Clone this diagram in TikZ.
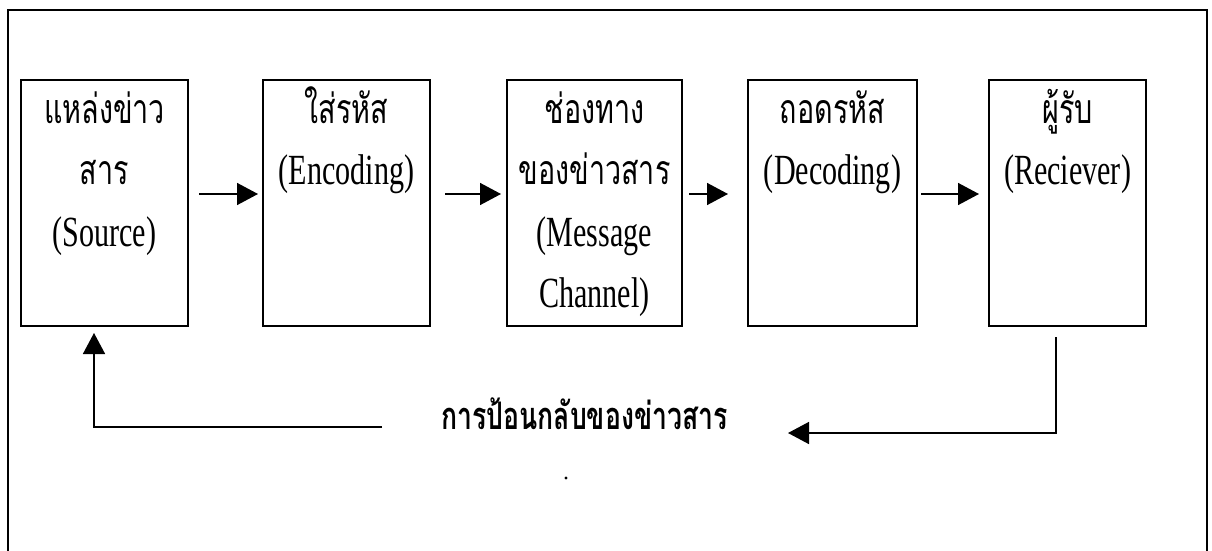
\documentclass[tikz,border=0pt]{standalone}
\usepackage{fontspec}
\setmainfont{Liberation Serif}[FakeStretch=0.7]
\newfontfamily\thai[Script=Thai,FakeStretch=0.7]{Loma}
\usetikzlibrary{arrows.meta}
\begin{document}
\begin{tikzpicture}[x=1pt,y=-1pt,line width=1.5pt,
  box/.style={draw,rectangle,inner sep=0pt,outer sep=0pt,minimum height=246pt},
  en/.style={anchor=base,inner sep=0pt,font=\fontsize{43}{50}\selectfont},
  th/.style={anchor=base,inner sep=0pt,font=\thai\fontsize{41}{50}\selectfont},
  thb/.style={anchor=base,inner sep=0pt,font=\thai\bfseries\fontsize{38}{50}\selectfont},
  arr/.style={-{Triangle[length=21pt,width=22pt]}}]
\useasboundingbox (0,0) rectangle (1212,551);
% outer frame
\draw (8,551) -- (8,10) -- (1207,10) -- (1207,551);
% boxes
\node[box,minimum width=167pt] (b1) at (104.5,203) {};
\node[box,minimum width=167pt] (b2) at (346.5,203) {};
\node[box,minimum width=175pt] (b3) at (594.5,203) {};
\node[box,minimum width=169pt] (b4) at (832.5,203) {};
\node[box,minimum width=157pt] (b5) at (1067.5,203) {};
% texts
\node[th] (t11) at (104.5,123) {แหล่งข่าว};
\node[th] (t12) at (104.5,184.5) {สาร};
\node[en] (t13) at (104.5,246) {(Source)};
\node[th] (t21) at (346.5,123) {ใส่รหัส};
\node[en] (t22) at (346.5,184.5) {(Encoding)};
\node[th] (t31) at (594.5,123) {ช่องทาง};
\node[th] (t32) at (594.5,184.5) {ของข่าวสาร};
\node[en] (t33) at (594.5,246) {(Message};
\node[en] (t34) at (594.5,307.5) {Channel)};
\node[th] (t41) at (832.5,123) {ถอดรหัส};
\node[en] (t42) at (832.5,184.5) {(Decoding)};
\node[th] (t51) at (1067.5,123) {ผู้รับ};
\node[en] (t52) at (1067.5,184.5) {(Reciever)};
% forward arrows
\draw[arr,shorten <=11pt,shorten >=5pt] ([yshift=9pt]b1.east) -- ([yshift=9pt]b2.west);
\draw[arr,shorten <=15pt,shorten >=6pt] ([yshift=9pt]b2.east) -- ([yshift=9pt]b3.west);
\draw[arr,shorten <=7pt,shorten >=20pt] ([yshift=9pt]b3.east) -- ([yshift=9pt]b4.west);
\draw[arr,shorten <=4pt,shorten >=10pt] ([yshift=9pt]b4.east) -- ([yshift=9pt]b5.west);
% feedback
\node[thb] (fb) at (584.5,429) {การป้อนกลับของข่าวสาร};
\coordinate (fbtip) at (788,433);
\coordinate (fbstart) at (382,427);
\draw[arr] ([xshift=-11.5pt,yshift=-11pt]b5.south) |- (fbtip);
\draw[arr] (fbstart) -| ([xshift=-10.5pt,yshift=-7pt]b1.south);
\fill (566,478) circle (1.7pt);
\end{tikzpicture}
\end{document}
